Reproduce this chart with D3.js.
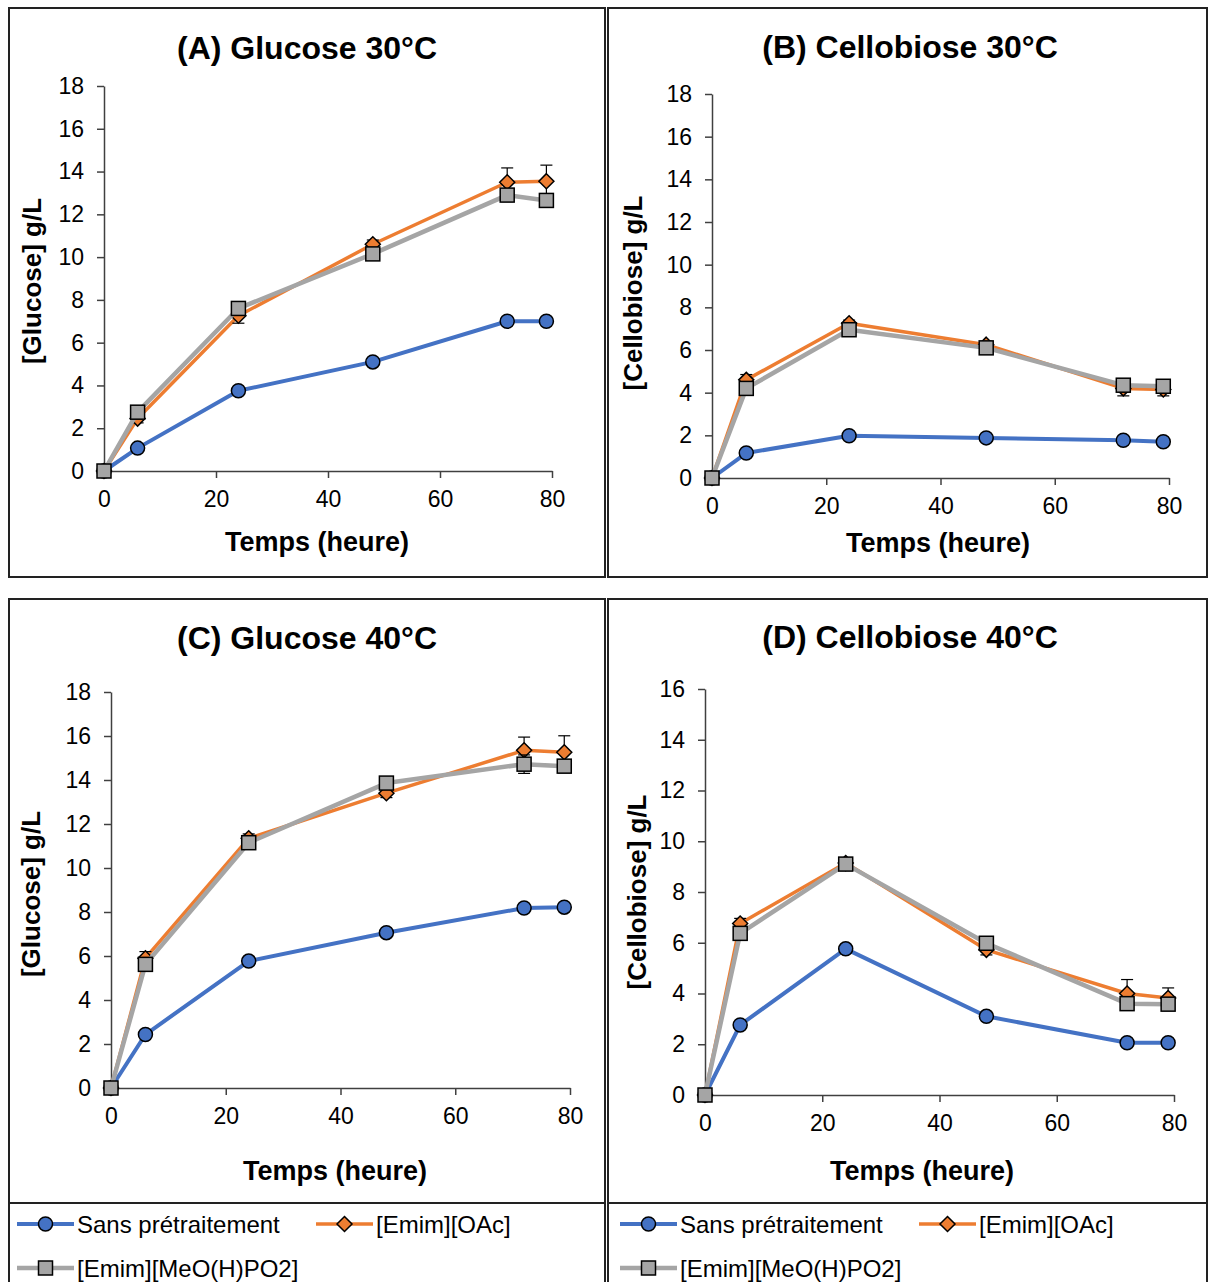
<!DOCTYPE html>
<html><head><meta charset="utf-8">
<script src="https://cdn.jsdelivr.net/npm/d3@7"></script>
<style>
body{margin:0;background:#fff}
svg{display:block}
text{font-family:"Liberation Sans",Arial,sans-serif}
</style>
</head><body>
<svg id="chart" width="1208" height="1282"></svg>
<script>
// ---------- DATA ----------
const times = [0, 6, 24, 48, 72, 79];
const seriesNames = ["Sans prétraitement", "[Emim][OAc]", "[Emim][MeO(H)PO2]"];
const seriesColors = ["#4472C4", "#ED7D31", "#A5A5A5"];
const xTicks = [0, 20, 40, 60, 80];
const yTicks18 = [0, 2, 4, 6, 8, 10, 12, 14, 16, 18];
const yTicks16 = [0, 2, 4, 6, 8, 10, 12, 14, 16];
const panelTitles = ["(A) Glucose 30°C", "(B) Cellobiose 30°C", "(C) Glucose 40°C", "(D) Cellobiose 40°C"];
const yTitles = ["[Glucose] g/L", "[Cellobiose] g/L", "[Glucose] g/L", "[Cellobiose] g/L"];
const xTitle = "Temps (heure)";

// (A) Glucose 30°C
const glc30Sans = [0, 1.07, 3.75, 5.1, 7.0, 7.0];
const glc30OAc  = [0, 2.45, 7.26, 10.6, 13.5, 13.55];
const glc30MeO  = [0, 2.75, 7.6, 10.15, 12.9, 12.65];
const glc30OAcErr = [0, 0.2, 0.35, 0.2, 0.67, 0.75];
const glc30MeOErr = [0, 0.2, 0.3, 0.2, 0.3, 0.3];
// (B) Cellobiose 30°C
const cel30Sans = [0, 1.17, 1.98, 1.88, 1.77, 1.7];
const cel30OAc  = [0, 4.6, 7.25, 6.25, 4.2, 4.15];
const cel30MeO  = [0, 4.2, 6.95, 6.1, 4.35, 4.3];
const cel30OAcErr = [0, 0.25, 0.15, 0.15, 0.35, 0.3];
const cel30MeOErr = [0, 0.2, 0.15, 0.15, 0.2, 0.2];
// (C) Glucose 40°C
const glc40Sans = [0, 2.43, 5.77, 7.06, 8.18, 8.22];
const glc40OAc  = [0, 5.9, 11.35, 13.4, 15.35, 15.26];
const glc40MeO  = [0, 5.62, 11.15, 13.86, 14.72, 14.63];
const glc40OAcErr = [0, 0.3, 0.2, 0.2, 0.6, 0.75];
const glc40MeOErr = [0, 0.3, 0.2, 0.2, 0.42, 0.3];
// (D) Cellobiose 40°C
const cel40Sans = [0, 2.76, 5.76, 3.1, 2.06, 2.06];
const cel40OAc  = [0, 6.76, 9.14, 5.72, 4.0, 3.82];
const cel40MeO  = [0, 6.37, 9.1, 5.98, 3.6, 3.58];
const cel40OAcErr = [0, 0.2, 0.2, 0.2, 0.55, 0.4];
const cel40MeOErr = [0, 0.2, 0.2, 0.2, 0.2, 0.2];

const panelValues = [
  [glc30Sans, glc30OAc, glc30MeO],
  [cel30Sans, cel30OAc, cel30MeO],
  [glc40Sans, glc40OAc, glc40MeO],
  [cel40Sans, cel40OAc, cel40MeO]
];
const panelErrors = [
  [null, glc30OAcErr, glc30MeOErr],
  [null, cel30OAcErr, cel30MeOErr],
  [null, glc40OAcErr, glc40MeOErr],
  [null, cel40OAcErr, cel40MeOErr]
];
const panelYTicks = [yTicks18, yTicks18, yTicks18, yTicks16];

// ---------- LAYOUT ----------
const layout = [
  {frame:[9,8,605,577],   x0:104, x1:552,  y0:471,  y1:86,  tX:307, tY:59,  xtX:317, xtY:551,  ytX:32,  ytY:281},
  {frame:[608,8,1207,577], x0:712, x1:1169, y0:478,  y1:94,  tX:910, tY:58,  xtX:938, xtY:552,  ytX:633, ytY:293},
  {frame:[9,599,605,1203], x0:111, x1:570,  y0:1088, y1:692, tX:307, tY:649, xtX:335, xtY:1180, ytX:31,  ytY:894},
  {frame:[608,599,1207,1203], x0:705, x1:1174, y0:1095, y1:689, tX:910, tY:648, xtX:922, xtY:1180, ytX:637, ytY:892}
];
const legendBoxes = [[9,1203,605,1300],[608,1203,1207,1300]];
const FONT = "'Liberation Sans', Arial, sans-serif";

const svg = d3.select("#chart");

function drawMarker(g, k, x, y) {
  if (k === 0) {
    g.append("circle").attr("cx", x).attr("cy", y).attr("r", 7)
      .attr("fill", seriesColors[0]).attr("stroke", "#000").attr("stroke-width", 1.5);
  } else if (k === 1) {
    g.append("path").attr("transform", `translate(${x},${y})`)
      .attr("d", "M0,-7.5L7.5,0L0,7.5L-7.5,0Z")
      .attr("fill", seriesColors[1]).attr("stroke", "#000").attr("stroke-width", 1.5);
  } else {
    g.append("rect").attr("x", x - 7).attr("y", y - 7).attr("width", 14).attr("height", 14)
      .attr("fill", seriesColors[2]).attr("stroke", "#000").attr("stroke-width", 1.5);
  }
}
const lineWidths = [4, 3.5, 4.5];

layout.forEach((L, p) => {
  const [fx0, fy0, fx1, fy1] = L.frame;
  svg.append("rect").attr("x", fx0).attr("y", fy0).attr("width", fx1 - fx0).attr("height", fy1 - fy0)
    .attr("fill", "none").attr("stroke", "#222").attr("stroke-width", 2);

  const yTicks = panelYTicks[p];
  const yMax = yTicks[yTicks.length - 1];
  const x = d3.scaleLinear().domain([0, 80]).range([L.x0, L.x1]);
  const y = d3.scaleLinear().domain([0, yMax]).range([L.y0, L.y1]);

  const gx = svg.append("g").attr("transform", `translate(0,${L.y0})`)
    .call(d3.axisBottom(x).tickValues(xTicks).tickSize(7).tickSizeOuter(0).tickPadding(13));
  const gy = svg.append("g").attr("transform", `translate(${L.x0},0)`)
    .call(d3.axisLeft(y).tickValues(yTicks).tickSize(7).tickSizeOuter(0).tickPadding(13));
  [gx, gy].forEach(g => {
    g.select(".domain").attr("stroke", "#404040").attr("stroke-width", 1.5);
    g.selectAll(".tick line").attr("stroke", "#404040").attr("stroke-width", 1.5);
    g.selectAll(".tick text").attr("fill", "#000").style("font-size", "23px")
      .style("font-family", FONT);
  });

  svg.append("text").attr("x", L.tX).attr("y", L.tY).attr("text-anchor", "middle")
    .style("font-size", "32px").style("font-weight", "bold").text(panelTitles[p]);
  svg.append("text").attr("x", L.xtX).attr("y", L.xtY).attr("text-anchor", "middle")
    .style("font-size", "27px").style("font-weight", "bold").text(xTitle);
  svg.append("text").attr("transform", `translate(${L.ytX},${L.ytY}) rotate(-90)`)
    .attr("text-anchor", "middle").attr("dominant-baseline", "central")
    .style("font-size", "26px").style("font-weight", "bold").text(yTitles[p]);

  const line = d3.line().x((d, i) => x(times[i])).y(d => y(d));
  panelValues[p].forEach((vals, k) => {
    const g = svg.append("g");
    g.append("path").datum(vals).attr("d", line).attr("fill", "none")
      .attr("stroke", seriesColors[k]).attr("stroke-width", lineWidths[k]).attr("stroke-linejoin", "round");
    const errs = panelErrors[p][k];
    if (errs) {
      vals.forEach((v, i) => {
        if (!errs[i]) return;
        const cx = x(times[i]);
        g.append("line").attr("x1", cx).attr("x2", cx).attr("y1", y(v - errs[i])).attr("y2", y(v + errs[i]))
          .attr("stroke", "#000").attr("stroke-width", 1.2);
        [v - errs[i], v + errs[i]].forEach(e => {
          g.append("line").attr("x1", cx - 6).attr("x2", cx + 6).attr("y1", y(e)).attr("y2", y(e))
            .attr("stroke", "#000").attr("stroke-width", 1.2);
        });
      });
    }
    vals.forEach((v, i) => drawMarker(g, k, x(times[i]), y(v)));
  });
});

// ---------- LEGENDS ----------
const legendItems = [
  {k:0, lx:17, ly:1224}, {k:1, lx:316, ly:1224}, {k:2, lx:17, ly:1268}
];
legendBoxes.forEach((B, b) => {
  svg.append("rect").attr("x", B[0]).attr("y", B[1]).attr("width", B[2] - B[0]).attr("height", B[3] - B[1])
    .attr("fill", "none").attr("stroke", "#222").attr("stroke-width", 2);
  const off = b === 0 ? 0 : 603;
  legendItems.forEach(it => {
    const x0 = it.lx + off, yy = it.ly;
    const g = svg.append("g");
    g.append("line").attr("x1", x0).attr("x2", x0 + 57).attr("y1", yy).attr("y2", yy)
      .attr("stroke", seriesColors[it.k]).attr("stroke-width", lineWidths[it.k]);
    drawMarker(g, it.k, x0 + 28.5, yy);
    g.append("text").attr("x", x0 + 60).attr("y", yy).attr("dominant-baseline", "central")
      .style("font-size", "24px").attr("fill", "#000").text(seriesNames[it.k]);
  });
});
</script>
</body></html>
